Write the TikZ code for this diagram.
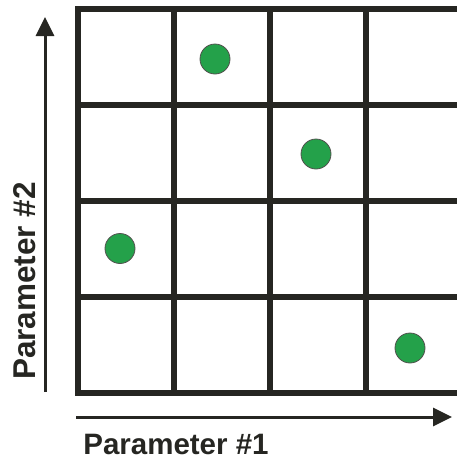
\documentclass[tikz,border=0pt]{standalone}
\usepackage{fontspec}
\setmainfont{Liberation Sans}
\usepackage{tikz}
\usetikzlibrary{arrows.meta}
\definecolor{gridcol}{RGB}{38,38,34}
\definecolor{dotgreen}{RGB}{36,161,74}

\begin{document}
\begin{tikzpicture}[
	x=1pt,y=-1pt,
	GridLines/.style={draw=gridcol,line width=6pt},
	AxisArrow/.style={draw=gridcol,line width=3pt,-{Triangle[length=19pt,width=18pt]}},
	Samples/.style={circle,draw=gridcol!80,line width=0.8pt,fill=dotgreen,minimum size=30pt,inner sep=0pt},
	AxisLabel/.style={font=\bfseries,text=gridcol,inner sep=0pt,anchor=base}
	]
	\useasboundingbox (0,0) rectangle (457,459);
	
	% the 4x4 grid, open on the right
	\foreach \y in {9,105,201,297,393}
	{ \draw[GridLines] (75,\y) -- (460,\y);
	}
	\foreach \x in {78,174,270,366}
	{ \draw[GridLines] (\x,6) -- (\x,396);
	}
	
	% one sample per row and column
	\node[Samples] (dotA) at (215,59) {};
	\node[Samples] (dotB) at (316,154) {};
	\node[Samples] (dotC) at (120,248.5) {};
	\node[Samples] (dotD) at (410,348) {};
	
	% axes
	\coordinate (Ystart) at (45,392);
	\coordinate (Yend) at (45,17);
	\coordinate (Xstart) at (76,417);
	\coordinate (Xend) at (452,417);
	\draw[AxisArrow] (Ystart) -- (Yend);
	\draw[AxisArrow] (Xstart) -- (Xend);
	
	\node[AxisLabel,font=\fontsize{29.5}{30}\bfseries] (Xlabel) at (176,454) {Parameter \#1};
	\node[AxisLabel,font=\fontsize{31.5}{32}\bfseries,rotate=90] (Ylabel) at (35,281) {Parameter \#2};
	
\end{tikzpicture}
\end{document}
